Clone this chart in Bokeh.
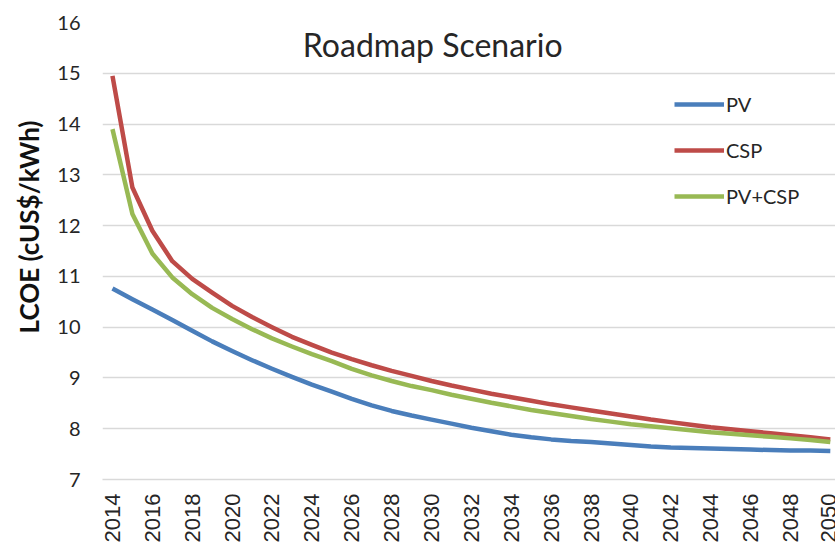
from bokeh.plotting import figure
from bokeh.models import FixedTicker, Label, Legend, LegendItem, Range1d, ColumnDataSource, Title
from bokeh.embed import file_html
from bokeh.resources import INLINE

years = list(range(2014, 2051))
pv = [10.76, 10.55, 10.35, 10.14, 9.93, 9.72, 9.53, 9.35, 9.18, 9.02, 8.87, 8.73, 8.59,
      8.46, 8.35, 8.26, 8.18, 8.10, 8.02, 7.95, 7.88, 7.83, 7.79, 7.76, 7.74, 7.71,
      7.68, 7.65, 7.63, 7.62, 7.61, 7.60, 7.59, 7.58, 7.57, 7.57, 7.56]
csp = [14.95, 12.75, 11.9, 11.3, 10.95, 10.68, 10.42, 10.2, 10.0, 9.81, 9.65, 9.5, 9.37,
       9.25, 9.14, 9.04, 8.94, 8.85, 8.77, 8.69, 8.62, 8.55, 8.48, 8.42, 8.36, 8.3,
       8.24, 8.18, 8.13, 8.08, 8.03, 7.99, 7.95, 7.91, 7.87, 7.83, 7.79]
pv_csp = [13.9, 12.23, 11.45, 10.98, 10.65, 10.38, 10.16, 9.96, 9.78, 9.62, 9.47, 9.33, 9.18,
          9.05, 8.94, 8.84, 8.76, 8.67, 8.59, 8.51, 8.44, 8.37, 8.31, 8.25, 8.19, 8.14,
          8.09, 8.05, 8.01, 7.97, 7.93, 7.9, 7.87, 7.84, 7.81, 7.78, 7.74]
series_names = ["PV", "CSP", "PV+CSP"]
colors = ["#4A7EBB", "#BE4B48", "#98B954"]
x_ticks = list(range(2014, 2051, 2))
y_ticks = list(range(7, 17))
title_text = "Roadmap Scenario"
y_title = "LCOE (cUS$/kWh)"

src = ColumnDataSource(dict(year=years, pv=pv, csp=csp, pv_csp=pv_csp))

p = figure(width=835, height=546, output_backend="svg", toolbar_location=None,
           x_range=Range1d(2013.5, 2050.26), y_range=Range1d(7, 16),
           min_border_left=98, min_border_right=0, min_border_top=22, min_border_bottom=67)
p.outline_line_color = None
p.background_fill_color = "white"
p.border_fill_color = "white"

p.xgrid.grid_line_color = None
p.ygrid.grid_line_color = "#d9d9d9"
p.ygrid.grid_line_width = 1.5

p.yaxis.ticker = FixedTicker(ticks=y_ticks)
p.xaxis.ticker = FixedTicker(ticks=x_ticks)
for ax in (p.xaxis, p.yaxis):
    ax.major_tick_line_color = None
    ax.minor_tick_line_color = None
    ax.major_tick_out = 0
    ax.major_tick_in = 0
    ax.minor_tick_out = 0
    ax.minor_tick_in = 0
    ax.major_label_text_color = "#262626"
p.yaxis.axis_line_color = None
p.xaxis.axis_line_color = "#d9d9d9"
p.xaxis.axis_line_width = 1.5
p.yaxis.major_label_text_font = "Lato"
p.yaxis.major_label_text_font_size = "20px"
p.yaxis.major_label_standoff = 22
p.xaxis.major_label_text_font = "Liberation Sans"
p.xaxis.major_label_text_font_size = "22px"
p.xaxis.major_label_orientation = 1.5707963
p.xaxis.major_label_standoff = 14

renderers = []
for col, c in zip(["pv", "csp", "pv_csp"], colors):
    r = p.line("year", col, source=src, line_color=c, line_width=4.5, line_join="round")
    renderers.append(r)

legend = Legend(items=[LegendItem(label=n, renderers=[r]) for n, r in zip(series_names, renderers)],
                location=(572, 271), orientation="vertical",
                glyph_width=50, glyph_height=20, label_height=20, spacing=22,
                label_standoff=2, padding=0, margin=0,
                border_line_color=None, background_fill_alpha=0,
                label_text_font="Lato", label_text_font_size="20px", label_text_color="#262626")
p.add_layout(legend)

p.add_layout(Label(x=2030.06, y=15.56, text=title_text, text_align="center", text_baseline="middle",
                   text_font="Lato", text_font_size="32px", text_color="#262626"))

p.add_layout(Title(text=y_title, align="right", offset=98, standoff=20,
                   text_font="Lato", text_font_style="bold", text_font_size="26px",
                   text_color="#111111"), "left")

open("out.html", "w").write(file_html(p, INLINE))
